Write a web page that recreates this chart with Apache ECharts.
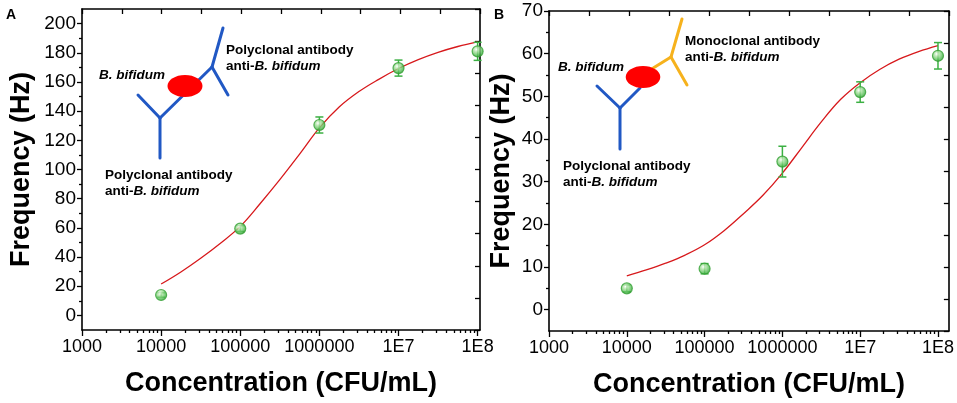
<!DOCTYPE html>
<html>
<head>
<meta charset="utf-8">
<script src="https://cdn.jsdelivr.net/npm/echarts@6/dist/echarts.min.js"></script>
<style>
  html, body { margin: 0; padding: 0; background: #fff; }
  #chart { width: 957px; height: 403px; }
</style>
</head>
<body>
<div id="chart"></div>
<script>
// panel A - polyclonal capture / polyclonal detection
const concA = [1e4, 1e5, 1e6, 1e7, 1e8];
const freqA = [14, 59.5, 130.5, 169.5, 181];
const errA = [1.5, 2, 5.5, 5.5, 6.2];
// fitted curve, every quarter decade (log10 CFU/mL)
const fitLogA = [4, 4.25, 4.5, 4.75, 5, 5.25, 5.5, 5.75, 6, 6.25, 6.5, 6.75, 7, 7.25, 7.5, 7.75, 8];
const fitFreqA = [21.5, 29.8, 39.2, 49.5, 61, 76.5, 93, 110.5, 128.5, 142.8, 153.4, 161.8, 169.2, 175.3, 180.3, 184.3, 187.5];

// panel B - polyclonal capture / monoclonal detection
const concB = [1e4, 1e5, 1e6, 1e7, 1e8];
const freqB = [5, 9.6, 34.7, 51, 59.5];
const errB = [0.8, 1.2, 3.6, 2.4, 3.1];
const fitLogB = [4, 4.25, 4.5, 4.75, 5, 5.25, 5.5, 5.75, 6, 6.25, 6.5, 6.75, 7, 7.25, 7.5, 7.75, 8];
const fitFreqB = [7.9, 9.3, 10.9, 12.8, 15.2, 18.5, 22.5, 26.8, 32, 38, 44, 49.3, 53.2, 56.3, 58.7, 60.5, 61.9];

// tick labels (x is drawn in log10 space, so decades are exponents)
const xDecades = [3, 4, 5, 6, 7, 8];
const yTicksA = [0, 20, 40, 60, 80, 100, 120, 140, 160, 180, 200];
const yTicksB = [0, 10, 20, 30, 40, 50, 60, 70];

const FONT = 'Liberation Sans, Arial, sans-serif';
const GREEN = '#3cb043';

const xMinor = [];
for (let n = 3; n < 8; n++) {
  for (let k = 2; k <= 9; k++) xMinor.push(Math.log10(k * Math.pow(10, n)));
}
const yMinorA = yTicksA.map(v => v + 10).filter(v => v < 210);
const yMinorB = yTicksB.map(v => v + 5).filter(v => v < 70);

function fmtX(v) {
  return v < 7 ? String(Math.round(Math.pow(10, v))) : '1E' + Math.round(v);
}

const axisLine = { onZero: false, lineStyle: { color: '#000', width: 1.6 } };
const tickStyle = { color: '#000', width: 1.3 };

function panelAxes(g, xMax, yMin, yMax, yTicks, yMinor, yNameGap) {
  const xs = [
    {
      type: 'value', gridIndex: g, position: 'bottom', min: 3, max: xMax,
      axisLine: axisLine,
      axisTick: { customValues: xDecades, length: 6, lineStyle: tickStyle },
      axisLabel: { customValues: xDecades, formatter: fmtX, fontSize: 18, color: '#000', margin: 8, fontFamily: FONT },
      splitLine: { show: false },
      name: 'Concentration (CFU/mL)', nameLocation: 'middle', nameGap: 40,
      nameTextStyle: { fontSize: 27, fontWeight: 'bold', color: '#000', fontFamily: FONT }
    },
    {
      type: 'value', gridIndex: g, position: 'bottom', min: 3, max: xMax,
      axisLine: { show: false, onZero: false },
      axisTick: { customValues: xMinor, length: 3, lineStyle: tickStyle },
      axisLabel: { show: false }, splitLine: { show: false }
    },
    {
      type: 'value', gridIndex: g, position: 'top', min: 0, max: 10, interval: 1,
      axisLine: axisLine,
      axisTick: { inside: true, length: 5, lineStyle: tickStyle },
      axisLabel: { show: false }, splitLine: { show: false }
    }
  ];
  const ys = [
    {
      type: 'value', gridIndex: g, position: 'left', min: yMin, max: yMax,
      axisLine: axisLine,
      axisTick: { customValues: yTicks, length: 5, lineStyle: tickStyle },
      axisLabel: { customValues: yTicks, fontSize: 19, color: '#000', margin: 6, fontFamily: FONT },
      splitLine: { show: false },
      name: 'Frequency (Hz)', nameLocation: 'middle', nameGap: yNameGap,
      nameTextStyle: { fontSize: 27, fontWeight: 'bold', color: '#000', fontFamily: FONT }
    },
    {
      type: 'value', gridIndex: g, position: 'left', min: yMin, max: yMax,
      axisLine: { show: false, onZero: false },
      axisTick: { customValues: yMinor, length: 3, lineStyle: tickStyle },
      axisLabel: { show: false }, splitLine: { show: false }
    },
    {
      type: 'value', gridIndex: g, position: 'right', min: 0, max: 10, interval: 1,
      axisLine: axisLine,
      axisTick: { inside: true, length: 5, lineStyle: tickStyle },
      axisLabel: { show: false }, splitLine: { show: false }
    }
  ];
  return { xs, ys };
}

const axA = panelAxes(0, 8.03, -10, 210, yTicksA, yMinorA, 47);
const axB = panelAxes(1, 8.14, -5, 70, yTicksB, yMinorB, 34);

function errorBarItem(params, api) {
  const x = api.value(0);
  const hi = api.coord([x, api.value(2)]);
  const lo = api.coord([x, api.value(1)]);
  const w = 4;
  const st = { stroke: GREEN, lineWidth: 1.5 };
  return {
    type: 'group',
    children: [
      { type: 'line', shape: { x1: hi[0], y1: hi[1], x2: lo[0], y2: lo[1] }, style: st },
      { type: 'line', shape: { x1: hi[0] - w, y1: hi[1], x2: hi[0] + w, y2: hi[1] }, style: st },
      { type: 'line', shape: { x1: lo[0] - w, y1: lo[1], x2: lo[0] + w, y2: lo[1] }, style: st }
    ]
  };
}

const ball = new echarts.graphic.RadialGradient(0.4, 0.35, 0.65, [
  { offset: 0, color: '#ffffff' },
  { offset: 0.3, color: '#b0e3a6' },
  { offset: 0.7, color: '#5cc15c' },
  { offset: 1, color: '#2f9a2f' }
]);

function panelSeries(ax, conc, freq, err, fitLog, fitFreq) {
  const xi = ax * 3;
  return [
    {
      type: 'line', xAxisIndex: xi, yAxisIndex: xi, smooth: 0.4, showSymbol: false,
      data: fitLog.map((l, i) => [l, fitFreq[i]]),
      lineStyle: { color: '#d7191c', width: 1.3 }, z: 3
    },
    {
      type: 'custom', xAxisIndex: xi, yAxisIndex: xi, renderItem: errorBarItem,
      encode: { x: 0, y: [1, 2] },
      data: conc.map((c, i) => [Math.log10(c), freq[i] - err[i], freq[i] + err[i]]), z: 4
    },
    {
      type: 'scatter', xAxisIndex: xi, yAxisIndex: xi, symbol: 'circle', symbolSize: 11,
      data: conc.map((c, i) => [Math.log10(c), freq[i]]),
      itemStyle: { color: ball, borderColor: '#35a035', borderWidth: 1.2 }, z: 5
    }
  ];
}

// inset cartoon: antibodies and bacterium
const BLUE = '#2158c4';
const ORANGE = '#f6b21d';
function seg(x1, y1, x2, y2, color) {
  return { type: 'line', shape: { x1, y1, x2, y2 }, style: { stroke: color, lineWidth: 3, lineCap: 'round' }, z: 10 };
}
function label(x, y, text, va) {
  return {
    type: 'text', x, y, z: 11,
    style: {
      text, verticalAlign: va || 'top', fontFamily: FONT, fontSize: 13.5, fill: '#000',
      rich: {
        b: { fontWeight: 'bold', fontSize: 13.5, fontFamily: FONT, lineHeight: 15.5 },
        i: { fontWeight: 'bold', fontStyle: 'italic', fontSize: 13.5, fontFamily: FONT, lineHeight: 15.5 }
      }
    }
  };
}

const graphics = [
  { type: 'text', x: 6, y: 8, style: { text: 'A', fontSize: 14, fontWeight: 'bold', fontFamily: FONT, fill: '#000' } },
  { type: 'text', x: 494, y: 8, style: { text: 'B', fontSize: 14, fontWeight: 'bold', fontFamily: FONT, fill: '#000' } },

  seg(160, 158, 160, 118, BLUE),
  seg(160, 118, 138, 95, BLUE),
  seg(160, 118, 212, 67, BLUE),
  seg(212, 67, 223, 28, BLUE),
  seg(212, 67, 228, 95, BLUE),
  { type: 'ellipse', shape: { cx: 185, cy: 86, rx: 17.5, ry: 11 }, style: { fill: '#ff0000' }, z: 12 },
  label(226, 43, '{b|Polyclonal antibody}\n{b|anti-}{i|B. bifidum}'),
  label(99, 75, '{i|B. bifidum}', 'middle'),
  label(105, 168, '{b|Polyclonal antibody}\n{b|anti-}{i|B. bifidum}'),

  seg(620, 149, 620, 108, BLUE),
  seg(620, 108, 597, 86, BLUE),
  seg(620, 108, 640, 88, BLUE),
  seg(650, 70, 671, 57, ORANGE),
  seg(671, 57, 682, 19, ORANGE),
  seg(671, 57, 687, 85, ORANGE),
  { type: 'ellipse', shape: { cx: 643, cy: 77, rx: 17.3, ry: 11 }, style: { fill: '#ff0000' }, z: 12 },
  label(685, 34, '{b|Monoclonal antibody}\n{b|anti-}{i|B. bifidum}'),
  label(558, 67, '{i|B. bifidum}', 'middle'),
  label(563, 159, '{b|Polyclonal antibody}\n{b|anti-}{i|B. bifidum}')
];

const chart = echarts.init(document.getElementById('chart'), null, { renderer: 'canvas' });
chart.setOption({
  animation: false,
  backgroundColor: '#fff',
  grid: [
    { left: 82, top: 9, width: 398, height: 321 },
    { left: 549, top: 11, width: 400, height: 320 }
  ],
  xAxis: axA.xs.concat(axB.xs),
  yAxis: axA.ys.concat(axB.ys),
  series: panelSeries(0, concA, freqA, errA, fitLogA, fitFreqA)
    .concat(panelSeries(1, concB, freqB, errB, fitLogB, fitFreqB)),
  graphic: graphics
});
</script>
</body>
</html>
